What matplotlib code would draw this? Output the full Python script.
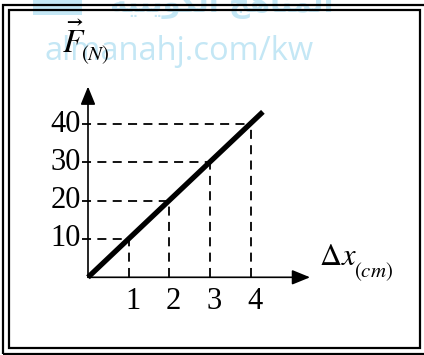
import matplotlib
matplotlib.use("Agg")
import matplotlib.pyplot as plt
from matplotlib.patches import Rectangle

plt.rcParams['mathtext.fontset'] = 'stix'

# ---- data ----
x_ticks = [1, 2, 3, 4]
x_tick_labels = ["1", "2", "3", "4"]
y_ticks = [10, 20, 30, 40]
y_tick_labels = ["10", "20", "30", "40"]
line_x = [0, 4.3]
line_y = [0, 43.2]

W, H, DPI = 424, 355, 100
fig = plt.figure(figsize=(W / DPI, H / DPI), dpi=DPI)
fig.patch.set_facecolor('white')

# axes geometry (pixels)
ox, oy = 88, 277.3          # origin in pixels (from top-left)
px_x = 40.67                 # pixels per x unit
px_y = 3.83                  # pixels per y unit
right_px, top_px = 312, 85
xmax = (right_px - ox) / px_x
ymax = (oy - top_px) / px_y
ax = fig.add_axes([ox / W, (H - oy) / H, (right_px - ox) / W, (oy - top_px) / H])
ax.set_xlim(0, xmax)
ax.set_ylim(0, ymax)
ax.axis('off')
ax.patch.set_alpha(0)

serif = 'Liberation Serif'
wm_color = '#c4e7f5'

# watermark
fig.text(45 / W, 1 - 60 / H, "almanahj.com/kw", family='Open Sans', fontsize=23.5,
         color=wm_color, ha='left', va='baseline', zorder=0)
arabic_visual = ("\uFE94\uFEF4\uFE98\uFEF3\uFEEE\uFEDC\uFEDF\uFE8D" + " " +
                 "\uFE9E\uFEEB\uFE8E\uFEE8\uFEE4\uFEDF\uFE8D")
fig.text(110 / W, 1 - 12 / H, arabic_visual, family='DejaVu Sans', fontweight='bold',
         fontsize=21, color=wm_color, ha='left', va='baseline', zorder=0)
fig.add_artist(Rectangle((33 / W, 1 - 15 / H), 49 / W, 15 / H, transform=fig.transFigure,
                         facecolor=wm_color, edgecolor='none', zorder=0))

# dashed guide lines
for xv, yv in zip(x_ticks, y_ticks):
    ax.plot([-0.15, xv], [yv, yv], color='black', lw=1.3, ls=(0, (5, 3.5)),
            clip_on=False, zorder=2)
    ax.plot([xv, xv], [0, yv], color='black', lw=1.3, ls=(0, (5, 3.5)),
            clip_on=False, zorder=2)

# axes arrows
ax.annotate("", xy=(5.46, 0), xytext=(0, 0),
            arrowprops=dict(arrowstyle='-|>,head_length=1.1,head_width=0.45',
                            color='black', lw=1.2, shrinkA=0, shrinkB=0),
            annotation_clip=False, zorder=3)
ax.annotate("", xy=(0, 49.8), xytext=(0, 0),
            arrowprops=dict(arrowstyle='-|>,head_length=1.1,head_width=0.45',
                            color='black', lw=1.2, shrinkA=0, shrinkB=0),
            annotation_clip=False, zorder=3)

# main line
ax.plot(line_x, line_y, color='black', lw=3.8, solid_capstyle='butt',
        clip_on=False, zorder=4)

# tick labels
for xv, lab in zip(x_ticks, x_tick_labels):
    ax.annotate(lab, xy=(xv, 0), xytext=(4, -24), textcoords='offset pixels',
                ha='center', va='center', family=serif, fontsize=22,
                annotation_clip=False)
for yv, lab in zip(y_ticks, y_tick_labels):
    ax.annotate(lab, xy=(0, yv), xytext=(-7, 0), textcoords='offset pixels',
                ha='right', va='center', family=serif, fontsize=22,
                annotation_clip=False)

# axis labels
fig.text(62 / W, 1 - 53 / H, r"$\vec{F}$", fontsize=24, ha='left', va='baseline')
fig.text(81 / W, 1 - 60 / H, r"$(N)$", fontsize=15, ha='left', va='baseline')
fig.text(319 / W, 1 - 265 / H, r"$\Delta x$", fontsize=22, ha='left', va='baseline')
fig.text(354 / W, 1 - 277 / H, r"$(cm)$", fontsize=15, ha='left', va='baseline')

# double frame
fig.add_artist(Rectangle((3 / W, 1 - 354 / H), 424 / W, 349 / H, transform=fig.transFigure,
                         facecolor='none', edgecolor='black', lw=1.6, zorder=5))
fig.add_artist(Rectangle((8.5 / W, 1 - 348 / H), 411.5 / W, 338 / H, transform=fig.transFigure,
                         facecolor='none', edgecolor='black', lw=1.6, zorder=5))

fig.savefig("out.png", dpi=DPI)
